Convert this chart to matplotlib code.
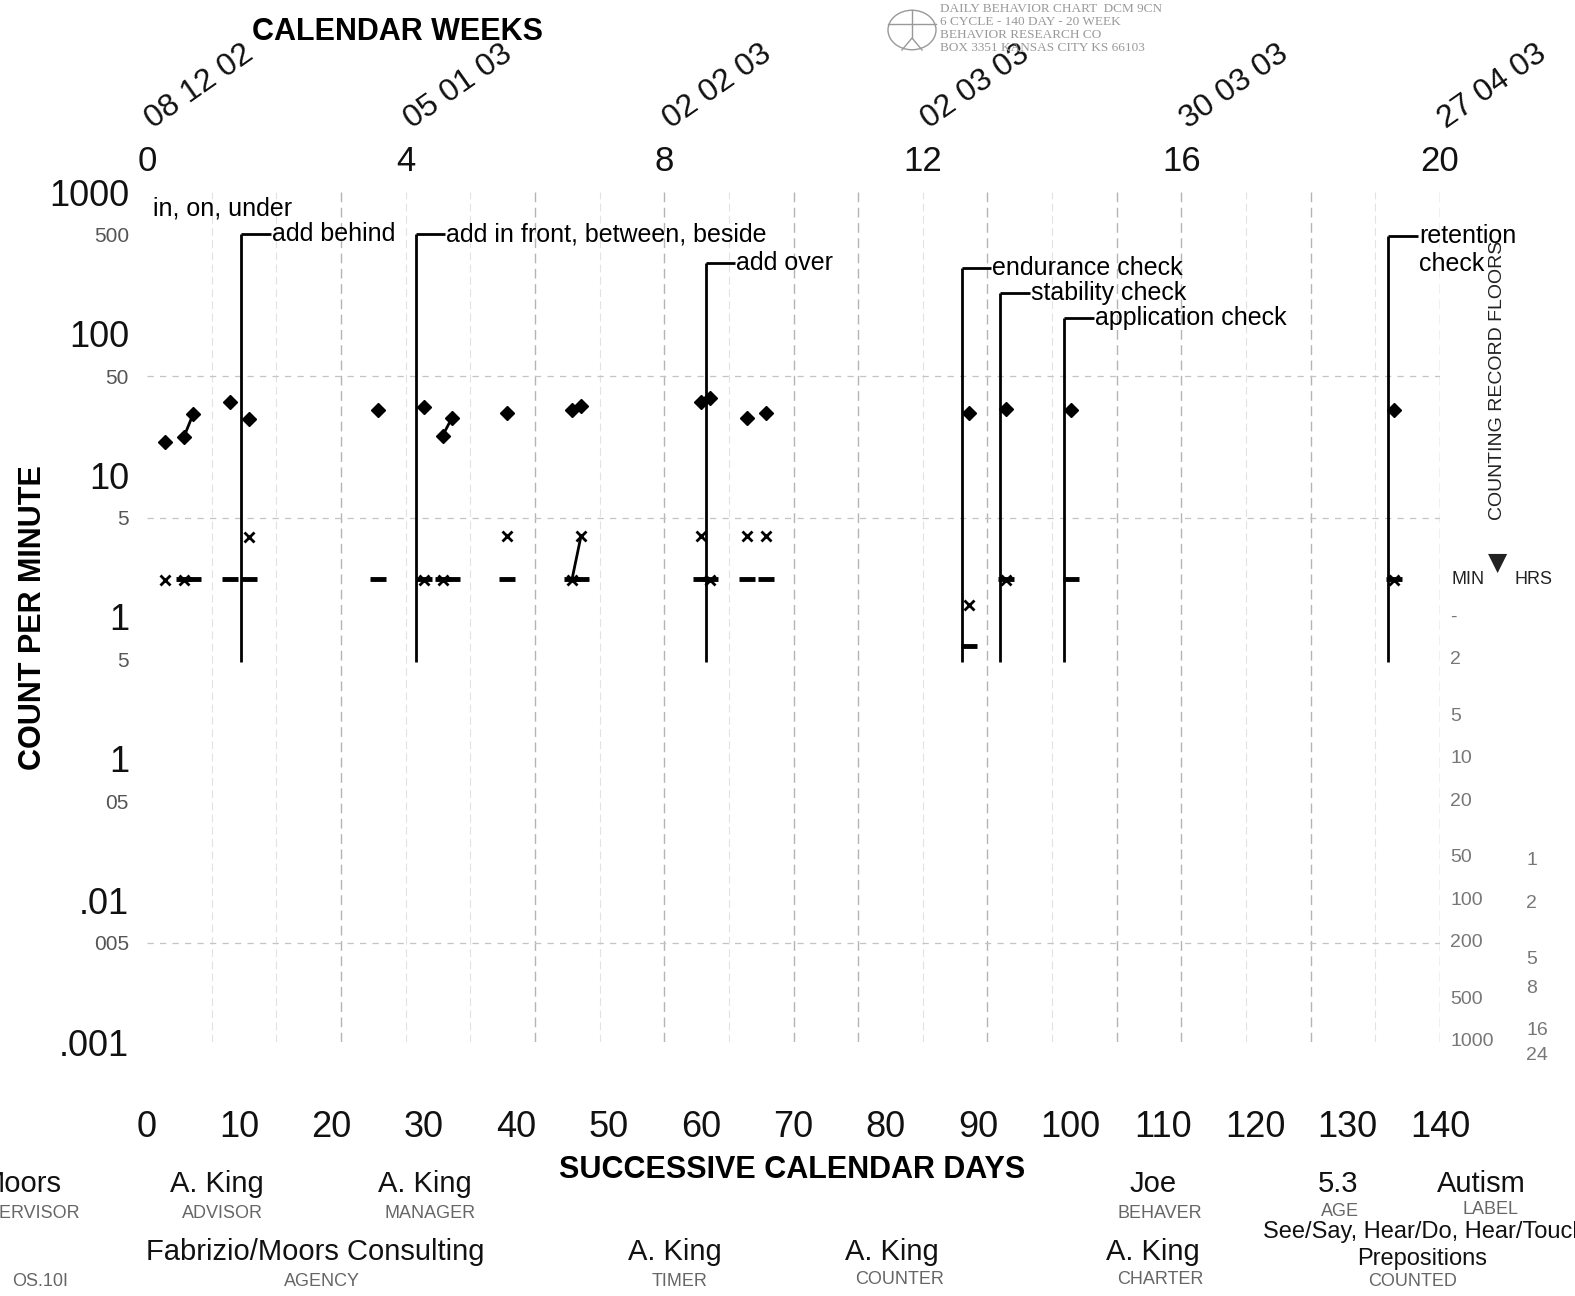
import matplotlib
matplotlib.use("Agg")
import matplotlib.pyplot as plt
import numpy as np

plt.rcParams["font.family"] = ["Liberation Sans", "DejaVu Sans"]

# ---- data ----
correct_days = [2, 4, 5, 9, 11, 25, 30, 32, 33, 39, 46, 47, 60, 61, 65, 67, 89, 93, 100, 135]
correct_vals = [17.3, 18.7, 27.1, 32.7, 24.9, 28.9, 30.5, 19.0, 25.3, 27.4,
                28.9, 30.9, 33.1, 35.0, 25.3, 27.4, 27.4, 29.2, 28.9, 28.9]

error_days = [2, 4, 11, 30, 32, 39, 46, 47, 60, 61, 65, 67, 89, 93, 135]
error_vals = [1.82, 1.82, 3.7, 1.82, 1.82, 3.75, 1.82, 3.75, 3.75, 1.82,
              3.75, 3.75, 1.215, 1.82, 1.82]

floor_days = [4, 5, 9, 11, 25, 30, 32, 33, 39, 46, 47, 60, 61, 65, 67, 89, 93, 100, 135]
floor_vals = [1.85, 1.85, 1.85, 1.85, 1.85, 1.85, 1.85, 1.85, 1.85, 1.85,
              1.85, 1.85, 1.85, 1.85, 1.85, 0.624, 1.85, 1.85, 1.85]

# pairs of days joined by a line
correct_links = [(4, 5), (32, 33)]
error_links = [(46, 47)]

phase_days = [10.2, 29.1, 60.5, 88.2, 92.4, 99.3, 134.4]
phase_tops = [505, 505, 315, 291, 194, 129, 489]
phase_labels = ["add behind", "add in front, between, beside", "add over",
                "endurance check", "stability check", "application check",
                "retention\ncheck"]
first_phase = "in, on, under"

day_ticks = list(range(0, 141, 10))
week_ticks = [0, 4, 8, 12, 16, 20]
week_dates = ["08 12 02", "05 01 03", "02 02 03", "02 03 03", "30 03 03", "27 04 03"]

y_major = [1000, 100, 10, 1, 0.1, 0.01, 0.001]
y_major_labels = ["1000", "100", "10", "1", "1", ".01", ".001"]
y_minor = [500, 50, 5, 0.5, 0.05, 0.005]
y_minor_labels = ["500", "50", "5", "5", "05", "005"]

floor_minutes = [1, 2, 5, 10, 20, 50, 100, 200, 500, 1000]
floor_min_labels = ["-", "2", "5", "10", "20", "50", "100", "200", "500", "1000"]
floor_hours = [1, 2, 5, 8, 16, 24]

W, H = 1575, 1296


def fx(x):
    return x / W


def fy(y):
    return 1 - y / H


fig = plt.figure(figsize=(W / 100, H / 100), dpi=100)
ax = fig.add_axes([fx(147), fy(1042), (1440 - 147) / W, (1042 - 192) / H])
ax.set_yscale("log")
ax.set_xlim(0, 140)
ax.set_ylim(0.001, 1000)
for s in ax.spines.values():
    s.set_visible(False)

# faint scanned grid
for d in range(7, 141, 7):
    strong = d in (21, 42, 56, 70, 77, 91, 105, 112, 126, 140)
    ax.axvline(d, color="#b4b4b4" if strong else "#e2e2e2", lw=1.0 if strong else 0.8,
               ls=(0, (7, 4)), zorder=0)
for v in (50, 5, 0.005):
    ax.axhline(v, color="#c4c4c4", lw=0.9, ls=(0, (5, 5)), zorder=0)

# ticks
ax.set_xticks(day_ticks)
ax.set_xticklabels([str(d) for d in day_ticks])
ax.tick_params(axis="x", length=0, pad=49, labelsize=26, labelcolor="#111")
ax.set_yticks(y_major)
ax.set_yticklabels(y_major_labels)
ax.set_yticks(y_minor, minor=True)
ax.set_yticklabels(y_minor_labels, minor=True)
ax.tick_params(axis="y", which="major", length=0, pad=13, labelsize=26, labelcolor="#111")
ax.tick_params(axis="y", which="minor", length=0, pad=13, labelsize=15, labelcolor="#555")

sec = ax.secondary_xaxis("top", functions=(lambda d: d / 7, lambda w: w * 7))
sec.set_xticks(week_ticks)
sec.set_xticklabels([str(w) for w in week_ticks])
sec.tick_params(length=0, pad=10, labelsize=25, labelcolor="#111")
for s in sec.spines.values():
    s.set_visible(False)

for w, lab in zip(week_ticks, week_dates):
    ax.annotate(lab, xy=(w * 7, 1), xycoords=("data", "axes fraction"),
                xytext=(38, 76), textcoords="offset points", rotation=35,
                ha="center", va="center", fontsize=23, color="#111")

# data
ax.plot(correct_days, correct_vals, ls="none", marker="D", ms=7.5, color="k",
        clip_on=False, zorder=4)
ax.plot(error_days, error_vals, ls="none", marker="x", ms=7.5, mew=2, color="k",
        clip_on=False, zorder=4)
ax.plot(floor_days, floor_vals, ls="none", marker="_", ms=11, mew=3.5, color="k",
        clip_on=False, zorder=3)
for a, b in correct_links:
    ia, ib = correct_days.index(a), correct_days.index(b)
    ax.plot([a, b], [correct_vals[ia], correct_vals[ib]], color="k", lw=2)
for a, b in error_links:
    ia, ib = error_days.index(a), error_days.index(b)
    ax.plot([a, b], [error_vals[ia], error_vals[ib]], color="k", lw=2)

# phase change lines and labels
ax.vlines(phase_days, 0.48, phase_tops, color="k", lw=2, zorder=2)
ax.hlines(phase_tops, phase_days, [d + 3.2 for d in phase_days], color="k", lw=2)
for d, top, lab in zip(phase_days, phase_tops, phase_labels):
    for i, line in enumerate(lab.split("\n")):
        ax.annotate(line, xy=(d + 3.3, top), xytext=(0, -20 * i),
                    textcoords="offset points", ha="left", va="center",
                    fontsize=18, color="k")
ax.text(0.7, 759, first_phase, ha="left", va="center", fontsize=18, color="k")

# axis titles
fig.text(fx(398), fy(32), "CALENDAR WEEKS", ha="center", va="center",
         fontsize=22, fontweight="bold")
fig.text(fx(792), fy(1170), "SUCCESSIVE CALENDAR DAYS", ha="center", va="center",
         fontsize=22, fontweight="bold")
fig.text(fx(33), fy(618), "COUNT PER MINUTE", ha="center", va="center",
         rotation=90, fontsize=22, fontweight="bold")

# counting record floors scale
fig.text(fx(1498), fy(380), "COUNTING RECORD FLOORS", ha="center", va="center",
         rotation=90, fontsize=14, color="#222")
fig.text(fx(1498), fy(563), "\u25bc", ha="center", va="center", fontsize=18,
         family="DejaVu Sans", color="#222")
fig.text(fx(1468), fy(580), "MIN", ha="center", va="center", fontsize=13, color="#222")
fig.text(fx(1533), fy(580), "HRS", ha="center", va="center", fontsize=13, color="#222")
trans_min = ax.get_yaxis_transform()
for m, lab in zip(floor_minutes, floor_min_labels):
    ax.text(1.0 + 10 / 1293, 1 / m, lab, transform=trans_min, ha="left",
            va="center", fontsize=14, color="#777", clip_on=False)
for h in floor_hours:
    ax.text(1.0 + 86 / 1293, 1 / (60 * h), str(h), transform=trans_min, ha="left",
            va="bottom", fontsize=14, color="#777", clip_on=False)

# header stamp (faded)
circle = plt.Circle((fx(912), fy(30)), 24 / W, transform=fig.transFigure,
                    fill=False, ec="#999", lw=1)
fig.add_artist(circle)
fig.add_artist(plt.Line2D([fx(888), fx(936)], [fy(24), fy(24)],
                          transform=fig.transFigure, color="#999", lw=1))
fig.add_artist(plt.Line2D([fx(912), fx(912)], [fy(10), fy(38)],
                          transform=fig.transFigure, color="#999", lw=1))
fig.add_artist(plt.Line2D([fx(902), fx(912), fx(922)], [fy(50), fy(38), fy(50)],
                          transform=fig.transFigure, color="#999", lw=1))
stamp = ["DAILY BEHAVIOR CHART  DCM 9CN", "6 CYCLE - 140 DAY - 20 WEEK",
         "BEHAVIOR RESEARCH CO", "BOX 3351 KANSAS CITY KS 66103"]
for i, line in enumerate(stamp):
    fig.text(fx(940), fy(9 + 13 * i), line, ha="left", va="center", fontsize=9.5,
             family="Liberation Serif", color="#999")

# bottom information block
big = [("Moors", 62, 1184, "right"), ("A. King", 217, 1184, "center"),
       ("A. King", 425, 1184, "center"), ("Joe", 1153, 1184, "center"),
       ("5.3", 1338, 1184, "center"), ("Autism", 1481, 1184, "center"),
       ("Fabrizio/Moors Consulting", 315, 1252, "center"),
       ("A. King", 675, 1252, "center"), ("A. King", 892, 1252, "center"),
       ("A. King", 1153, 1252, "center")]
for txt, x, y, ha in big:
    fig.text(fx(x), fy(y), txt, ha=ha, va="center", fontsize=21, color="#111")
small = [("SUPERVISOR", 80, 1213, "right"), ("ADVISOR", 222, 1213, "center"),
         ("MANAGER", 430, 1213, "center"), ("BEHAVER", 1160, 1213, "center"),
         ("AGE", 1340, 1211, "center"), ("LABEL", 1490, 1210, "center"),
         ("OS.10I", 40, 1282, "center"), ("AGENCY", 322, 1282, "center"),
         ("TIMER", 680, 1282, "center"), ("COUNTER", 900, 1280, "center"),
         ("CHARTER", 1160, 1280, "center"), ("COUNTED", 1413, 1281, "center")]
for txt, x, y, ha in small:
    fig.text(fx(x), fy(y), txt, ha=ha, va="center", fontsize=13, color="#666")
fig.text(fx(1263), fy(1232), "See/Say, Hear/Do, Hear/Touch", ha="left", va="center",
         fontsize=17, color="#111")
fig.text(fx(1422), fy(1259), "Prepositions", ha="center", va="center",
         fontsize=17, color="#111")

fig.savefig("out.png", dpi=100, facecolor="white")
